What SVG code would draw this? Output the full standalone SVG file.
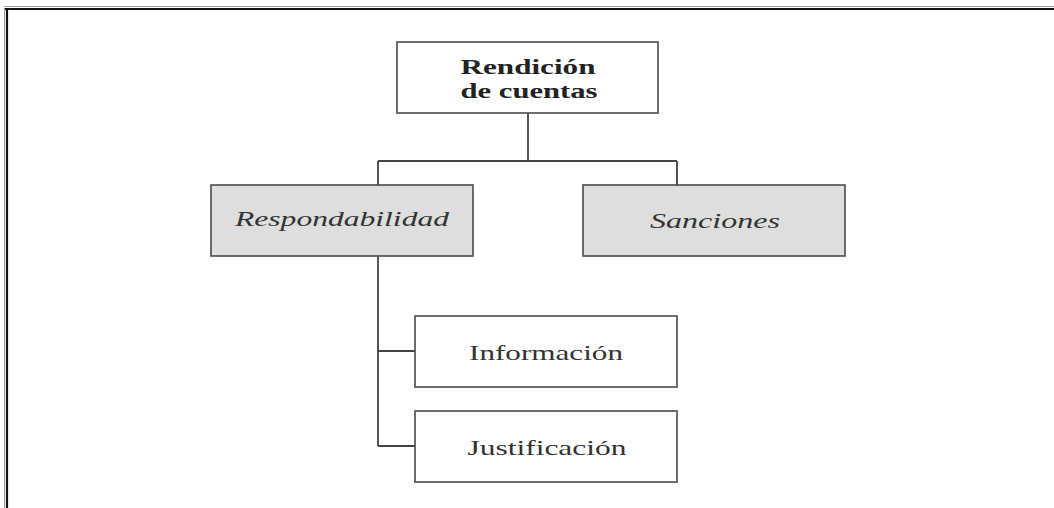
<svg xmlns="http://www.w3.org/2000/svg" width="1054" height="508" viewBox="0 0 1054 508">
<style>
.box{fill:#ffffff;stroke:#4a4a4a;stroke-width:1.6}
.gray{fill:#dedede;stroke:#4a4a4a;stroke-width:1.6}
.t{font-family:"Liberation Serif","Times New Roman",serif;font-size:21px;fill:#333333;text-anchor:middle}
.b{font-weight:bold;fill:#222222}
.i{font-style:italic}
.conn{fill:none;stroke:#444444;stroke-width:1.8}
</style>
<rect x="0" y="0" width="1054" height="508" fill="#ffffff"/>
<g id="frame">
<line x1="4" y1="6.5" x2="1054" y2="6.5" stroke="#9a9a9a" stroke-width="1"/>
<line x1="4" y1="9" x2="1054" y2="9" stroke="#111111" stroke-width="2.2"/>
<line x1="4.5" y1="8" x2="4.5" y2="508" stroke="#9a9a9a" stroke-width="1"/>
<line x1="7" y1="8" x2="7" y2="508" stroke="#111111" stroke-width="2.2"/>
</g>
<g id="connectors">
<path class="conn" d="M528 113 V161 M378 161 H677 M378 161 V185 M677 161 V185 M378 256 V446 M378 351 H415 M378 446 H415"/>
</g>
<g id="node-rendicion">
<rect class="box" x="397" y="42" width="261" height="71"/>
<text class="t b" x="528" y="74" textLength="135" lengthAdjust="spacingAndGlyphs">Rendición</text>
<text class="t b" x="529" y="98" textLength="137" lengthAdjust="spacingAndGlyphs">de cuentas</text>
</g>
<g id="node-respondabilidad">
<rect class="gray" x="211" y="185" width="262" height="71"/>
<text class="t i" x="342" y="226" textLength="214" lengthAdjust="spacingAndGlyphs">Respondabilidad</text>
</g>
<g id="node-sanciones">
<rect class="gray" x="583" y="185" width="262" height="71"/>
<text class="t i" x="715" y="228" textLength="130" lengthAdjust="spacingAndGlyphs">Sanciones</text>
</g>
<g id="node-informacion">
<rect class="box" x="415" y="316" width="262" height="71"/>
<text class="t" x="546" y="360" textLength="154" lengthAdjust="spacingAndGlyphs">Información</text>
</g>
<g id="node-justificacion">
<rect class="box" x="415" y="411" width="262" height="71"/>
<text class="t" x="547" y="455" textLength="159" lengthAdjust="spacingAndGlyphs">Justificación</text>
</g>
</svg>
